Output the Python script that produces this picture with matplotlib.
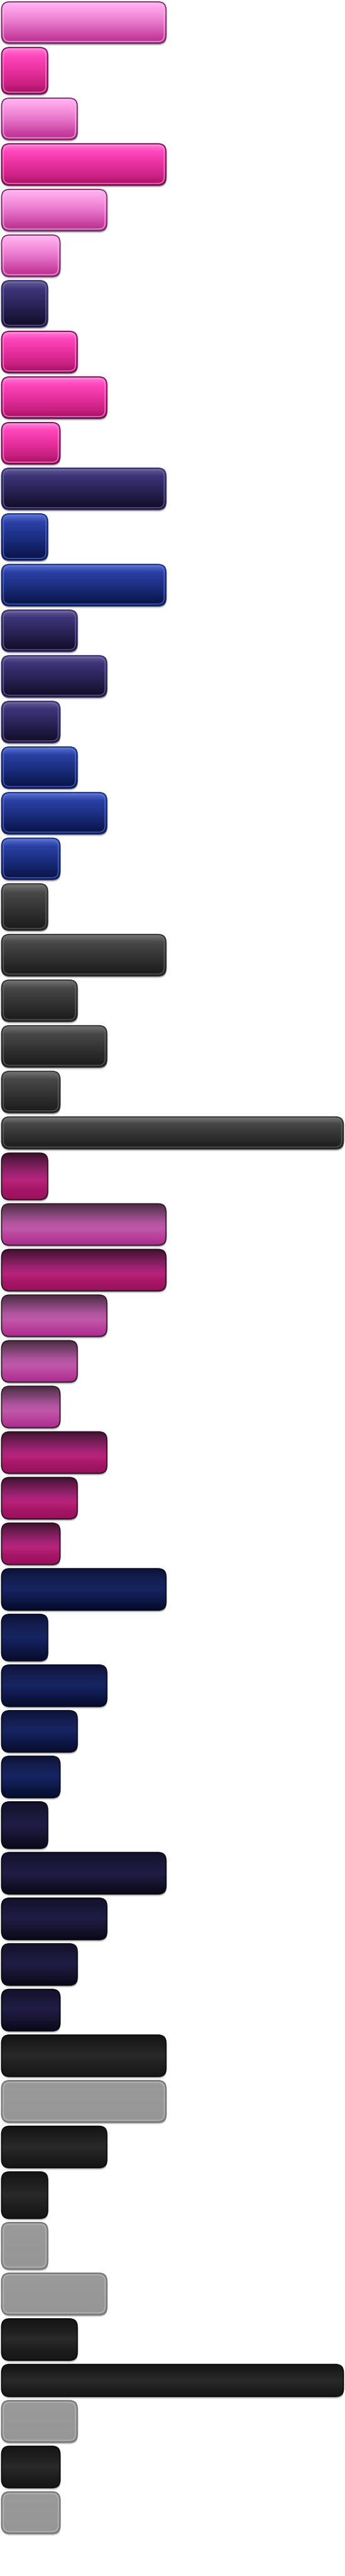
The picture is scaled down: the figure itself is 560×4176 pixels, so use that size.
import numpy as np
import matplotlib
matplotlib.use("Agg")
import matplotlib.pyplot as plt
from matplotlib.patches import FancyBboxPatch
from matplotlib.colors import LinearSegmentedColormap

# button sprite sheet: one horizontal bar per button, top to bottom
styles = ["pink_light", "pink_hot", "pink_light", "pink_hot", "pink_light",
          "pink_light", "indigo", "pink_hot", "pink_hot", "pink_hot",
          "indigo", "blue", "blue", "indigo", "indigo",
          "indigo", "blue", "blue", "blue", "graphite",
          "graphite", "graphite", "graphite", "graphite", "graphite",
          "magenta", "orchid", "magenta", "orchid", "orchid",
          "orchid", "magenta", "magenta", "magenta", "navy",
          "navy", "navy", "navy", "navy", "midnight",
          "midnight", "midnight", "midnight", "midnight", "black",
          "silver", "black", "black", "silver", "silver",
          "black", "black", "silver", "black", "silver"]

lengths = [267, 75, 123, 267, 171,
           95, 75, 123, 171, 95,
           267, 75, 267, 123, 171,
           95, 123, 171, 95, 75,
           267, 123, 171, 95, 555,
           75, 267, 267, 171, 123,
           95, 171, 123, 95, 267,
           75, 171, 123, 95, 75,
           267, 171, 123, 95, 267,
           267, 171, 75, 75, 171,
           123, 555, 123, 95, 95]

# colour stops (top -> bottom), outer edge, inner highlight
palette = {
    "pink_light": ([(0, "#ffb8f2"), (0.15, "#ffa6ea"), (0.5, "#e878cc"), (0.85, "#c8409e"), (1, "#b42e8c")], "#7a2868", "#f8bce8"),
    "pink_hot": ([(0, "#ff84d6"), (0.2, "#ff46bc"), (0.5, "#e8309e"), (0.8, "#c82080"), (1, "#a01060")], "#6e1050", "#ff9ade"),
    "indigo": ([(0, "#6c6298"), (0.2, "#3c3478"), (0.6, "#262050"), (1, "#100c24")], "#38306a", "#7a70b8"),
    "blue": ([(0, "#6078d8"), (0.2, "#2a40a4"), (0.6, "#182a78"), (1, "#081242")], "#1c2a70", "#5a78e0"),
    "graphite": ([(0, "#7a7a7a"), (0.2, "#484848"), (0.6, "#303030"), (1, "#1a1a1a")], "#303030", "#6a6a6a"),
    "magenta": ([(0, "#3a1028"), (0.15, "#601a48"), (0.45, "#a02474"), (0.6, "#b8237a"), (0.75, "#a81868"), (1, "#98105c")], "#2a0c20", None),
    "orchid": ([(0, "#4a2a40"), (0.15, "#6a3c60"), (0.45, "#b055a0"), (0.6, "#c058a8"), (0.8, "#b8409c"), (1, "#a82c8c")], "#301828", None),
    "navy": ([(0, "#0c1234"), (0.25, "#141e50"), (0.5, "#162462"), (0.75, "#0e1848"), (1, "#060c2a")], "#050a20", None),
    "midnight": ([(0, "#12102a"), (0.25, "#1a1838"), (0.5, "#201c46"), (0.75, "#16142e"), (1, "#0a0818")], "#06050f", None),
    "black": ([(0, "#141414"), (0.25, "#1e1e1e"), (0.5, "#2a2a2a"), (0.75, "#1e1e1e"), (1, "#161616")], "#0a0a0a", None),
    "silver": ([(0, "#9a9a9a"), (1, "#969696")], "#727272", "#bababa"),
}

W, H = 560, 4176
fig = plt.figure(figsize=(W / 100, H / 100), dpi=100)
ax = fig.add_axes([0, 0, 1, 1])
ax.set_xlim(0, W)
ax.set_ylim(H, 0)
ax.axis("off")

# row heights depend on button size (square, normal, slim)
def row_h(n):
    if n < 80:
        return 75.5
    if n > 400:
        return 52
    return 67.3

gap = 6.65
heights = np.array([row_h(n) for n in lengths])
tops = 3 + np.concatenate([[0], np.cumsum(heights + gap)[:-1]])
bars = ax.barh(tops + heights / 2, lengths, height=heights, left=2.5, alpha=0)

r = 13
for rect, st in zip(bars, styles):
    x0, y0, w, h = rect.get_x(), rect.get_y(), rect.get_width(), rect.get_height()
    stops, edge, inner = palette[st]
    # soft shadow
    for dy, a in [(4.0, 0.08), (2.8, 0.14), (1.8, 0.2)]:
        ax.add_patch(FancyBboxPatch((x0 + 0.8, y0 + dy), w, h,
                                    boxstyle=f"round,pad=0,rounding_size={r}",
                                    fc="black", ec="none", alpha=a, zorder=1))
    shape = FancyBboxPatch((x0, y0), w, h, boxstyle=f"round,pad=0,rounding_size={r}",
                           fc="none", ec="none", zorder=2)
    ax.add_patch(shape)
    cmap = LinearSegmentedColormap.from_list(st, stops)
    grad = np.linspace(0, 1, 256).reshape(-1, 1)
    im = ax.imshow(grad, cmap=cmap, aspect="auto", extent=(x0, x0 + w, y0 + h, y0),
                   origin="upper", interpolation="bilinear", zorder=2)
    im.set_clip_path(shape)
    if inner:
        ax.add_patch(FancyBboxPatch((x0 + 3, y0 + 3), w - 6, h - 6,
                                    boxstyle=f"round,pad=0,rounding_size={r - 3}",
                                    fc="none", ec=inner, lw=1.0, alpha=0.8, zorder=3))
    ax.add_patch(FancyBboxPatch((x0, y0), w, h, boxstyle=f"round,pad=0,rounding_size={r}",
                                fc="none", ec=edge, lw=1.3, zorder=4))

ax.set_xlim(0, W)
ax.set_ylim(H, 0)
fig.savefig("out.png", dpi=100, facecolor="white")
